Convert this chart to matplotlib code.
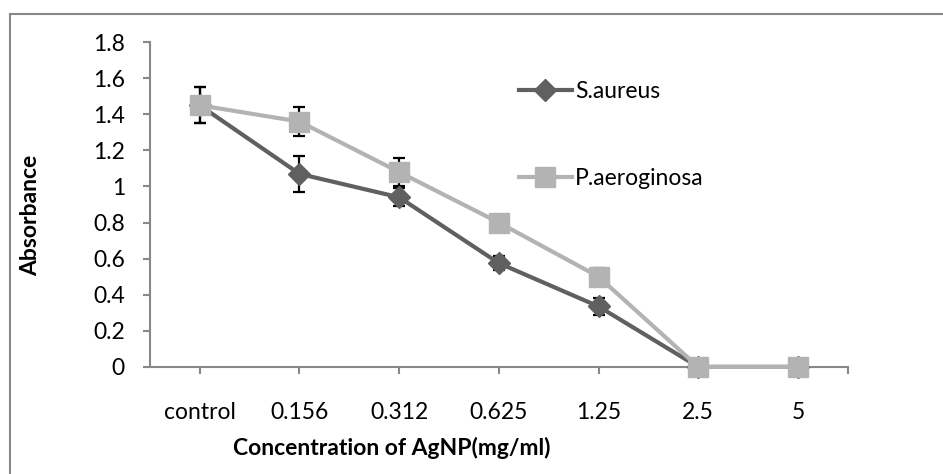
import numpy as np
import matplotlib
matplotlib.use("Agg")
import matplotlib.pyplot as plt
from matplotlib.lines import Line2D

plt.rcParams['font.family'] = ['Lato', 'DejaVu Sans']

conc = ["control", "0.156", "0.312", "0.625", "1.25", "2.5", "5"]
s_aureus = [1.45, 1.07, 0.94, 0.575, 0.335, 0.0, 0.0]
s_aureus_err = [0.10, 0.10, 0.05, 0.04, 0.045, 0.0, 0.0]
p_aerog = [1.45, 1.36, 1.08, 0.80, 0.50, 0.0, 0.0]
p_aerog_err = [0.10, 0.08, 0.08, 0.04, 0.05, 0.0, 0.0]
yticks = [0, 0.2, 0.4, 0.6, 0.8, 1, 1.2, 1.4, 1.6, 1.8]
ylabels = ["0", "0.2", "0.4", "0.6", "0.8", "1", "1.2", "1.4", "1.6", "1.8"]

FS = 16.5
c1 = "#606060"
c2 = "#b3b3b3"
grey = "#888888"

fig = plt.figure(figsize=(9.43, 4.74), dpi=100)
ax = fig.add_axes([0.159, 0.226, 0.740, 0.685])

x = np.arange(len(conc))

# error bars sit under the markers
ax.errorbar(x, s_aureus, yerr=s_aureus_err, fmt="none", ecolor="black",
            elinewidth=1.6, capsize=4.5, capthick=1.6, zorder=2)
ax.errorbar(x, p_aerog, yerr=p_aerog_err, fmt="none", ecolor="black",
            elinewidth=1.6, capsize=4.5, capthick=1.6, zorder=2)

ax.plot(x, s_aureus, color=c1, lw=3, marker="D", markersize=11,
        label="S.aureus", zorder=3, clip_on=False)
ax.plot(x, p_aerog, color=c2, lw=3, marker="s", markersize=14,
        label="P.aeroginosa", zorder=4, clip_on=False)

ax.set_xlim(-0.5, len(conc) - 0.5)
ax.set_ylim(0, 1.8)
ax.set_yticks(yticks)
ax.set_yticklabels(ylabels)
ax.set_xticks(x)
ax.set_xticklabels(conc)
ax.set_xticks([len(conc) - 0.5], minor=True)
ax.tick_params(axis="x", which="both", length=5, color=grey, width=1.5,
               labelsize=FS, pad=20)
ax.tick_params(axis="y", length=5, color=grey, width=1.5, labelsize=FS, pad=13)

for s in ["top", "right"]:
    ax.spines[s].set_visible(False)
for s in ["left", "bottom"]:
    ax.spines[s].set_color(grey)
    ax.spines[s].set_linewidth(1.5)

fig.text(233 / 943, 1 - 448 / 474, "Concentration of AgNP(mg/ml)", fontsize=FS,
         fontweight="bold", ha="left", va="center")
fig.text(31 / 943, 1 - 215 / 474, "Absorbance", fontsize=FS, fontweight="bold",
         rotation=90, ha="center", va="center")

fig.legend(loc="center left", bbox_to_anchor=(519 / 943, 1 - 135 / 474), frameon=False,
           fontsize=FS, handlelength=2.3, labelspacing=2.9, handletextpad=0.15,
           borderpad=0, borderaxespad=0)

# chart frame: only the top and left edges show in the crop
fig.add_artist(Line2D([10 / 943, 1], [1 - 13.5 / 474] * 2, transform=fig.transFigure,
                      color=grey, lw=1.5))
fig.add_artist(Line2D([10 / 943] * 2, [0, 1 - 13.5 / 474], transform=fig.transFigure,
                      color=grey, lw=1.5))

fig.savefig("out.png", dpi=100)
